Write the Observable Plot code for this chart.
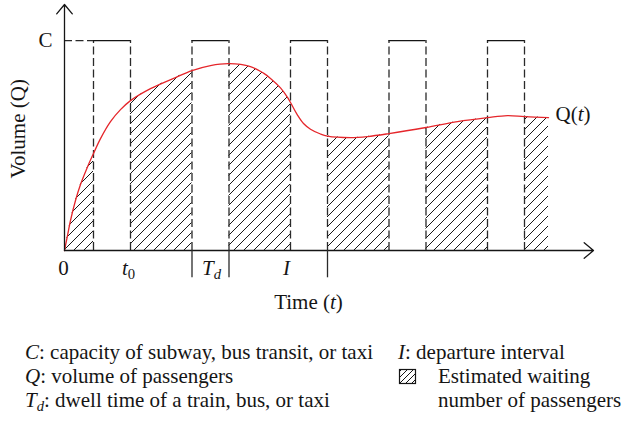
<!DOCTYPE html>
<html>
<head>
<meta charset="utf-8">
<script src="https://cdn.jsdelivr.net/npm/d3@7"></script>
<script src="https://cdn.jsdelivr.net/npm/@observablehq/plot@0.6"></script>
<style>
  body { margin: 0; background: #fff; }
  #chart { width: 623px; height: 426px; font-family: "Liberation Serif", "Times New Roman", serif; }
  #chart svg { display: block; }
</style>
</head>
<body>
<div id="chart"></div>
<script>
// Passenger volume Q(t) sampled along the time axis
const curveT = [0, 0.3, 0.6, 1.1, 1.6, 2.3, 2.9, 3.6, 4.6, 5.6, 6.6, 8.6, 11.1, 12.75, 14.6, 16.45,
  18.6, 19.9, 20.6, 21.6, 22.3, 22.6, 23.3, 23.9, 24.6, 25.6, 26.3, 28.6, 30.3, 32.45, 36.15,
  39.3, 42.3, 44.3, 46.0, 48.4];
const curveQ = [0, 0.71, 1.43, 2.38, 3.14, 3.98, 4.62, 5.33, 6.14, 6.71, 7.14, 7.71, 8.24, 8.57, 8.81, 8.90,
  8.76, 8.45, 8.2, 7.75, 7.3, 7.05, 6.45, 6.05, 5.78, 5.55, 5.45, 5.38, 5.43, 5.57, 5.86,
  6.14, 6.33, 6.43, 6.38, 6.33];

// Vehicle at the stop: doors open / vehicle leaves
const arrivals = [2.9, 12.75, 22.6, 32.45, 42.3];
const departures = [6.6, 16.45, 26.3, 36.15, 46.0];
const capacity = 10;

// Axis extents (arrow tips)
const tMax = 52.9;
const qMax = 11.72;

// Marks under the time axis and their labels
const tickTimes = [12.75, 16.45, 26.3];
const tickLabelT = [-0.1, 6.4, 14.7, 22.2];
const tickLabelText = ["0", "t0", "Td", "I"];

// Key below the chart
const keyLeft = [
  [["C", "i"], [": capacity of subway, bus transit, or taxi"]],
  [["Q", "i"], [": volume of passengers"]],
  [["T", "i"], ["d", "isub"], [": dwell time of a train, bus, or taxi", "up"]]
];
const keyRight = [
  [["I", "i"], [": departure interval"]],
  [["Estimated waiting"]],
  [["number of passengers"]]
];

const points = curveT.map((t, i) => ({t, q: curveQ[i]}));
const stops = arrivals.map((a, i) => ({a, d: departures[i]}));
const ticks = tickLabelT.map((t, i) => ({t, label: tickLabelText[i]}));
const axes = [
  {x1: 0, y1: 0, x2: tMax, y2: 0},
  {x1: 0, y1: 0, x2: 0, y2: qMax}
];

const ink = "#151515";
const dash = "#2a2a2a";
const fontSize = 21;

const svg = Plot.plot({
  width: 623,
  height: 320,
  marginLeft: 64,
  marginRight: 30,
  marginTop: 4,
  marginBottom: 70,
  x: {domain: [0, tMax], axis: null},
  y: {domain: [0, qMax], axis: null},
  style: {fontFamily: "'Liberation Serif', 'Times New Roman', serif", fontSize: fontSize + "px", background: "#fff"},
  marks: [
    // hatched waiting passengers under Q(t)
    Plot.areaY(points, {x: "t", y: "q", fill: "url(#hatch)", curve: "catmull-rom"}),
    // while the vehicle is at the stop there is no waiting queue
    Plot.rect(stops, {x1: "a", x2: "d", y1: 0, y2: capacity, fill: "white"}),
    // capacity pulses
    Plot.ruleX([...arrivals, ...departures], {y1: 0, y2: capacity, stroke: dash, strokeWidth: 1.3, strokeDasharray: "8,3.5"}),
    Plot.ruleY(stops, {y: capacity, x1: "a", x2: "d", stroke: ink, strokeWidth: 1.3}),
    Plot.ruleY([capacity], {x1: 0, x2: arrivals[0], stroke: dash, strokeWidth: 1.3, strokeDasharray: "8,3.5"}),
    // passenger volume
    Plot.line(points, {x: "t", y: "q", stroke: "#e5262b", strokeWidth: 1.3, curve: "catmull-rom"}),
    // axes with open arrowheads
    Plot.arrow(axes, {x1: "x1", y1: "y1", x2: "x2", y2: "y2", stroke: ink, strokeWidth: 1.3, headLength: 14, headAngle: 80}),
    Plot.ruleX(tickTimes, {y1: 0, y2: -1.3, stroke: dash, strokeWidth: 1.3}),
    // labels
    Plot.text(ticks, {x: "t", y: 0, text: "label", dy: 18, fill: ink, fontSize}),
    Plot.text(["Time (t)"], {x: 24.4, y: 0, dy: 52, fill: ink, fontSize}),
    Plot.text(["Volume (Q)"], {x: -4.6, y: 5.8, rotate: -90, fill: ink, fontSize}),
    Plot.text(["C"], {x: 0, y: capacity, dx: -19, fill: ink, fontSize}),
    Plot.text(points.slice(-1), {x: "t", y: "q", text: () => "Q(t)", textAnchor: "start", dx: 7, dy: -3, fill: ink, fontSize})
  ]
});

// hatch pattern used by the area
d3.select(svg).insert("defs", ":first-child").html(
  `<pattern id="hatch" patternUnits="userSpaceOnUse" x="4" y="0" width="10" height="10">
     <path d="M0,10L10,0M-1,1L1,-1M9,11L11,9" stroke="${ink}" stroke-width="1"/>
   </pattern>`
);

// italic letters and subscripts inside the labels
function fill(el, parts) {
  el.text(null);
  for (const [s, k = ""] of parts) {
    const ts = el.append("tspan").text(s);
    if (k.includes("i")) ts.attr("font-style", "italic");
    if (k.includes("sub")) ts.attr("font-size", "0.7em").attr("dy", "4");
    if (k.includes("up")) ts.attr("dy", "-4");
  }
}
const rich = {
  "t0": [["t", "i"], ["0", "sub"]],
  "Td": [["T", "i"], ["d", "isub"]],
  "I": [["I", "i"]],
  "Time (t)": [["Time ("], ["t", "i"], [")"]],
  "Q(t)": [["Q("], ["t", "i"], [")"]]
};
d3.select(svg).selectAll("text").each(function () {
  const parts = rich[this.textContent];
  if (parts) fill(d3.select(this), parts);
});

const chart = document.getElementById("chart");
chart.append(svg);

// key
const key = d3.create("svg").attr("width", 623).attr("height", 106)
  .style("font-family", "'Liberation Serif', 'Times New Roman', serif")
  .style("font-size", fontSize + "px");
key.append("defs").html(
  `<pattern id="hatchKey" patternUnits="userSpaceOnUse" x="1" y="0" width="6" height="6">
     <path d="M0,6L6,0M-1,1L1,-1M5,7L7,5" stroke="${ink}" stroke-width="1"/>
   </pattern>`
);
const baselines = [39, 63, 87];
keyLeft.forEach((parts, i) => fill(key.append("text").attr("x", 25).attr("y", baselines[i]).attr("fill", ink), parts));
keyRight.forEach((parts, i) => fill(key.append("text").attr("x", i === 0 ? 398 : 438).attr("y", baselines[i]).attr("fill", ink), parts));
key.append("rect").attr("x", 399.5).attr("y", 49.5).attr("width", 16).attr("height", 14)
  .attr("fill", "url(#hatchKey)").attr("stroke", ink).attr("stroke-width", 1.2);
chart.append(key.node());
</script>
</body>
</html>
